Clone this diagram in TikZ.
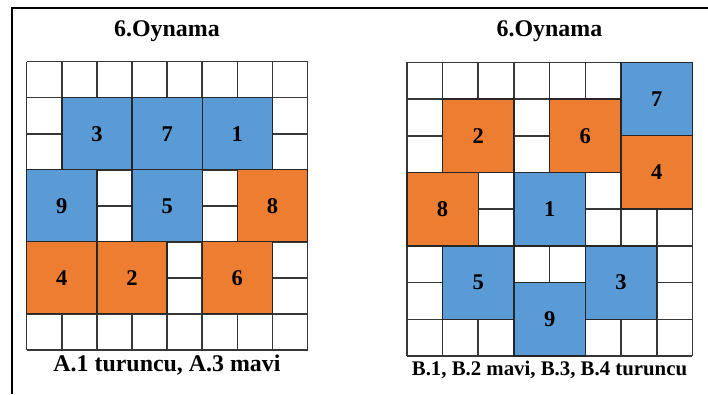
\documentclass[tikz,border=0pt]{standalone}
\usepackage{fontspec}
\setmainfont{Liberation Serif}
\definecolor{tileblue}{RGB}{91,155,213}
\definecolor{tileorange}{RGB}{237,125,49}
\definecolor{gridgray}{RGB}{55,55,55}
\usetikzlibrary{positioning}

\begin{document}
\begin{tikzpicture}[x=0.025cm,y=-0.025cm,
        title/.style={font=\fontsize{17}{20}\selectfont\bfseries},
        caption/.style={font=\fontsize{17}{20}\selectfont\bfseries},
        smallcaption/.style={font=\fontsize{14.8}{17}\selectfont\bfseries},
        gridline/.style={draw=gridgray,line width=1.1pt},
        bluetile/.style={fill=tileblue,draw=black!85,line width=1pt},
        orangetile/.style={fill=tileorange,draw=black!85,line width=1pt},
        num/.style={font=\fontsize{16}{18}\selectfont\bfseries}]
  \useasboundingbox (0,0) rectangle (708,394);
  \draw[line width=1.4pt] (12,394) -- (12,8) -- (708,8);

  % left board
  \node[title] (ltitle) at (167,31) {6.Oynama};
  \begin{scope}[xshift=0.6675cm,yshift=-1.5425cm,x=0.8775cm,y=-0.9cm]
    \foreach \i in {0,...,8} {
      \draw[gridline] (\i,0) -- (\i,8);
      \draw[gridline] (0,\i) -- (8,\i);
    }
    \filldraw[bluetile] (1,1) rectangle (3,3);
    \filldraw[bluetile] (3,1) rectangle (5,3);
    \filldraw[bluetile] (5,1) rectangle (7,3);
    \filldraw[bluetile] (0,3) rectangle (2,5);
    \filldraw[bluetile] (3,3) rectangle (5,5);
    \filldraw[orangetile] (6,3) rectangle (8,5);
    \filldraw[orangetile] (0,5) rectangle (2,7);
    \filldraw[orangetile] (2,5) rectangle (4,7);
    \filldraw[orangetile] (5,5) rectangle (7,7);
    \node[num] (l3) at (2,2) {3};
    \node[num] (l7) at (4,2) {7};
    \node[num] (l1) at (6,2) {1};
    \node[num] (l9) at (1,4) {9};
    \node[num] (l5) at (4,4) {5};
    \node[num] (l8) at (7,4) {8};
    \node[num] (l4) at (1,6) {4};
    \node[num] (l2) at (3,6) {2};
    \node[num] (l6) at (6,6) {6};
  \end{scope}
  \node[caption] (lcap) at (167,365) {A.1 turuncu, A.3 mavi};

  % right board
  \node[title] (rtitle) at (549.5,31) {6.Oynama};
  \begin{scope}[xshift=10.1675cm,yshift=-1.5575cm,x=0.8925cm,y=-0.9175cm]
    \foreach \i in {0,...,8} {
      \draw[gridline] (\i,0) -- (\i,8);
      \draw[gridline] (0,\i) -- (8,\i);
    }
    \filldraw[bluetile] (6,0) rectangle (8,2);
    \filldraw[orangetile] (1,1) rectangle (3,3);
    \filldraw[orangetile] (4,1) rectangle (6,3);
    \filldraw[orangetile] (6,2) rectangle (8,4);
    \filldraw[orangetile] (0,3) rectangle (2,5);
    \filldraw[bluetile] (3,3) rectangle (5,5);
    \filldraw[bluetile] (1,5) rectangle (3,7);
    \filldraw[bluetile] (3,6) rectangle (5,8);
    \filldraw[bluetile] (5,5) rectangle (7,7);
    \node[num] (r7) at (7,1) {7};
    \node[num] (r2) at (2,2) {2};
    \node[num] (r6) at (5,2) {6};
    \node[num] (r4) at (7,3) {4};
    \node[num] (r8) at (1,4) {8};
    \node[num] (r1) at (4,4) {1};
    \node[num] (r5) at (2,6) {5};
    \node[num] (r9) at (4,7) {9};
    \node[num] (r3) at (6,6) {3};
  \end{scope}
  \node[smallcaption] (rcap) at (549.5,370) {B.1, B.2 mavi, B.3, B.4 turuncu};
\end{tikzpicture}
\end{document}
